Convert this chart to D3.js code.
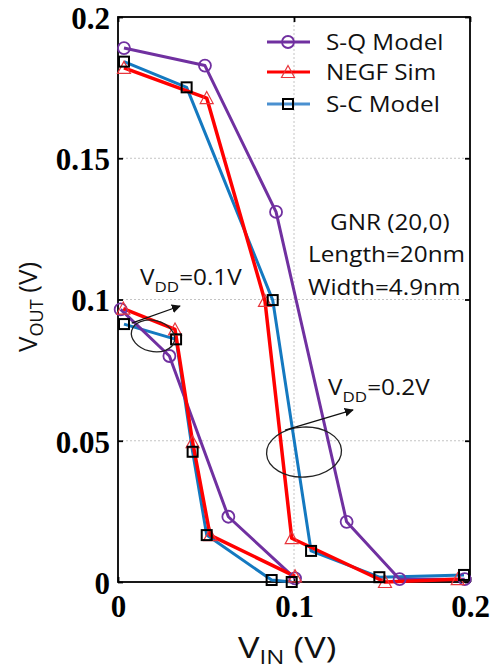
<!DOCTYPE html>
<html><head><meta charset="utf-8">
<script src="https://cdn.jsdelivr.net/npm/d3@7"></script>
<style>body{margin:0;background:#fff} svg{display:block}</style>
</head><body><svg id="c" width="498" height="672"></svg>
<script>
// ---- data ----
const xTicks = [0, 0.1, 0.2];
const xTickLabels = ["0", "0.1", "0.2"];
const yTicks = [0, 0.05, 0.1, 0.15, 0.2];
const yTickLabels = ["0", "0.05", "0.1", "0.15", "0.2"];
const gridX = [0.1];
const gridY = [0.05, 0.1, 0.15];
const seriesNames = ["S-Q Model", "NEGF Sim", "S-C Model"];

// VDD = 0.2 V
const sq02X   = [0.0034, 0.0494, 0.0898, 0.1299, 0.160, 0.197];
const sq02Y   = [0.189, 0.1828, 0.131, 0.0213, 0.001, 0.001];
const negf02X = [0.0034, 0.0504, 0.0835, 0.0987, 0.1517, 0.193];
const negf02Y = [0.182, 0.1713, 0.0995, 0.0155, 0.0, 0.001];
const sc02X   = [0.0034, 0.039, 0.0879, 0.1097, 0.1485, 0.1966];
const sc02Y   = [0.1842, 0.1751, 0.0998, 0.011, 0.0017, 0.0025];
// VDD = 0.1 V
const sq01X   = [0.0015, 0.0292, 0.0627, 0.1006];
const sq01Y   = [0.0965, 0.080, 0.0231, 0.0013];
const negf01X = [0.003, 0.0324, 0.0424, 0.0523, 0.1006];
const negf01Y = [0.0968, 0.0894, 0.0495, 0.0166, 0.002];
const sc01X   = [0.0034, 0.033, 0.0424, 0.0504, 0.0873, 0.0987];
const sc01Y   = [0.0913, 0.0859, 0.0461, 0.0166, 0.0007, 0.0];

// ---- drawing ----
const svg = d3.select("#c");
const m = {l: 118, r: 470, t: 17, b: 582};
const x = d3.scaleLinear().domain([0, 0.2]).range([m.l, m.r]);
const y = d3.scaleLinear().domain([0, 0.2]).range([m.b, m.t]);

const colors = {sq: "#7030A0", negf: "#FF0000", sc: "#1479C0"};
const SANS = "'Open Sans', 'DejaVu Sans', sans-serif";
const SERIF = "'Liberation Serif', 'Times New Roman', serif";

// grid
const g = svg.append("g");
g.selectAll(".gy").data(gridY).join("line")
  .attr("x1", m.l).attr("x2", m.r).attr("y1", d => y(d)).attr("y2", d => y(d))
  .attr("stroke", "#c4c4c4").attr("stroke-width", 1).attr("stroke-dasharray", "2,2");
g.selectAll(".gx").data(gridX).join("line")
  .attr("y1", m.t).attr("y2", m.b).attr("x1", d => x(d)).attr("x2", d => x(d))
  .attr("stroke", "#c4c4c4").attr("stroke-width", 1).attr("stroke-dasharray", "2,2");

// axes
function styleAxis(sel) {
  sel.select(".domain").remove();
  sel.selectAll(".tick line").attr("stroke", "#000").attr("stroke-width", 1.8);
  sel.selectAll("text").attr("font-family", SERIF).attr("font-weight", "bold")
    .attr("font-size", 31).attr("fill", "#000");
}
const ax = svg.append("g").attr("transform", `translate(0,${m.b})`)
  .call(d3.axisBottom(x).tickValues(xTicks).tickFormat((d, i) => xTickLabels[i])
    .tickSizeInner(-5).tickSizeOuter(0).tickPadding(13));
styleAxis(ax);
const ay = svg.append("g").attr("transform", `translate(${m.l},0)`)
  .call(d3.axisLeft(y).tickValues(yTicks).tickFormat((d, i) => yTickLabels[i])
    .tickSizeInner(-5).tickSizeOuter(0).tickPadding(8));
styleAxis(ay);
ay.selectAll("text").attr("dy", "0.37em");
const ar = svg.append("g").attr("transform", `translate(${m.r},0)`)
  .call(d3.axisRight(y).tickValues(yTicks).tickFormat("").tickSizeInner(-5).tickSizeOuter(0));
styleAxis(ar);
const at = svg.append("g").attr("transform", `translate(0,${m.t})`)
  .call(d3.axisTop(x).tickValues(xTicks).tickFormat("").tickSizeInner(-5).tickSizeOuter(0));
styleAxis(at);

svg.append("rect").attr("x", m.l).attr("y", m.t).attr("width", m.r - m.l).attr("height", m.b - m.t)
  .attr("fill", "none").attr("stroke", "#000").attr("stroke-width", 1.8);

// series
const zip = (xs, ys) => xs.map((v, i) => [v, ys[i]]);
const line = d3.line().x(d => x(d[0])).y(d => y(d[1]));
const curves = [
  {k: "sc", pts: zip(sc02X, sc02Y), w: 3},
  {k: "sc", pts: zip(sc01X, sc01Y), w: 3},
  {k: "sq", pts: zip(sq02X, sq02Y), w: 3},
  {k: "sq", pts: zip(sq01X, sq01Y), w: 3},
  {k: "negf", pts: zip(negf02X, negf02Y), w: 3.5},
  {k: "negf", pts: zip(negf01X, negf01Y), w: 3.5},
];
svg.append("g").selectAll("path").data(curves).join("path")
  .attr("d", d => line(d.pts)).attr("fill", "none")
  .attr("stroke", d => colors[d.k]).attr("stroke-width", d => d.w)
  .attr("stroke-linejoin", "round");

const triPath = "M0,-6.5L6.5,5.5L-6.5,5.5Z";
function circles(sel, pts) {
  sel.selectAll(null).data(pts).join("circle")
    .attr("cx", d => x(d[0])).attr("cy", d => y(d[1])).attr("r", 6)
    .attr("fill", "none").attr("stroke", colors.sq).attr("stroke-width", 1.8);
}
function tris(sel, pts) {
  sel.selectAll(null).data(pts).join("path")
    .attr("d", triPath).attr("transform", d => `translate(${x(d[0])},${y(d[1])})`)
    .attr("fill", "none").attr("stroke", "#E8363C").attr("stroke-width", 1.2);
}
function squares(sel, pts) {
  sel.selectAll(null).data(pts).join("rect")
    .attr("x", d => x(d[0]) - 5).attr("y", d => y(d[1]) - 5).attr("width", 10).attr("height", 10)
    .attr("fill", "none").attr("stroke", "#000").attr("stroke-width", 2);
}
const mk = svg.append("g");
circles(mk.append("g"), zip(sq02X, sq02Y));
circles(mk.append("g"), zip(sq01X, sq01Y));
tris(mk.append("g"), zip(negf02X, negf02Y));
tris(mk.append("g"), zip(negf01X, negf01Y));
squares(mk.append("g"), zip(sc02X, sc02Y));
squares(mk.append("g"), zip(sc01X, sc01Y));

// legend
const leg = svg.append("g");
const legRows = [42, 72, 104];
const legKeys = ["sq", "negf", "sc"];
legKeys.forEach((k, i) => {
  const yy = legRows[i];
  leg.append("line").attr("x1", 267).attr("x2", 310).attr("y1", yy).attr("y2", yy)
    .attr("stroke", k === "sc" ? "#4A90D0" : colors[k]).attr("stroke-width", 3);
  const c = leg.append("g");
  if (k === "sq") circles(c, [[x.invert(288), y.invert(yy)]]);
  if (k === "negf") tris(c, [[x.invert(288), y.invert(yy)]]);
  if (k === "sc") squares(c, [[x.invert(288), y.invert(yy)]]);
  leg.append("text").attr("transform", `translate(326,${yy + 8}) scale(1.13,1)`)
    .attr("font-family", SANS).attr("font-size", 21.5).attr("fill", "#111")
    .text(seriesNames[i]);
});

// annotations
function sText(tx, ty, parts, size, sx) {
  const t = svg.append("text").attr("transform", `translate(${tx},${ty}) scale(${sx},1)`)
    .attr("font-family", SANS).attr("font-size", size).attr("fill", "#111");
  parts.forEach(p => {
    const s = t.append("tspan").text(p.t);
    if (p.sub) s.attr("font-size", size * 0.7).attr("dy", size * 0.32);
    if (p.up) s.attr("dy", -size * 0.32);
  });
  return t;
}
sText(330, 230, [{t: "GNR (20,0)"}], 21.5, 1.13);
sText(308, 262, [{t: "Length=20nm"}], 21.5, 1.13);
sText(308, 295, [{t: "Width=4.9nm"}], 21.5, 1.13);
sText(140, 285, [{t: "V"}, {t: "DD", sub: true}, {t: "=0.1V", up: true}], 21.5, 1.13);
sText(328, 395, [{t: "V"}, {t: "DD", sub: true}, {t: "=0.2V", up: true}], 21.5, 1.13);

// ellipses & arrows (in data coordinates)
const ellipses = [
  {cx: 0.0199, cy: 0.0871, rx: 22, ry: 15.5, rot: 14},
  {cx: 0.1057, cy: 0.0460, rx: 37.5, ry: 25, rot: -3},
];
svg.append("g").selectAll("ellipse").data(ellipses).join("ellipse")
  .attr("transform", d => `translate(${x(d.cx)},${y(d.cy)}) rotate(${d.rot})`)
  .attr("rx", d => d.rx).attr("ry", d => d.ry)
  .attr("fill", "none").attr("stroke", "#222").attr("stroke-width", 1.3);

svg.append("defs").append("marker").attr("id", "ah").attr("viewBox", "0 0 10 10")
  .attr("refX", 9).attr("refY", 5).attr("markerWidth", 9).attr("markerHeight", 9)
  .attr("markerUnits", "userSpaceOnUse").attr("orient", "auto")
  .append("path").attr("d", "M0,0L10,5L0,10Z").attr("fill", "#111");
const arrows = [
  {x1: 0.0078, y1: 0.0916, x2: 0.0352, y2: 0.0977},
  {x1: 0.0949, y1: 0.0538, x2: 0.1335, y2: 0.0609},
];
svg.append("g").selectAll("line").data(arrows).join("line")
  .attr("x1", d => x(d.x1)).attr("y1", d => y(d.y1)).attr("x2", d => x(d.x2)).attr("y2", d => y(d.y2))
  .attr("stroke", "#111").attr("stroke-width", 1.3).attr("marker-end", "url(#ah)");

// axis titles
const xl = svg.append("text").attr("transform", `translate(238,658) scale(1.2,1)`)
  .attr("font-family", SANS).attr("font-size", 30).attr("fill", "#111");
xl.append("tspan").text("V");
xl.append("tspan").text("IN").attr("font-size", 20).attr("dy", 6);
xl.append("tspan").text(" (V)").attr("dy", -6);

const yl = svg.append("text").attr("transform", `translate(37,352) rotate(-90)`)
  .attr("font-family", SANS).attr("font-size", 26).attr("fill", "#111");
yl.append("tspan").text("V");
yl.append("tspan").text("OUT").attr("font-size", 18).attr("dy", 6);
yl.append("tspan").text(" (V)").attr("dy", -6);
</script></body></html>
